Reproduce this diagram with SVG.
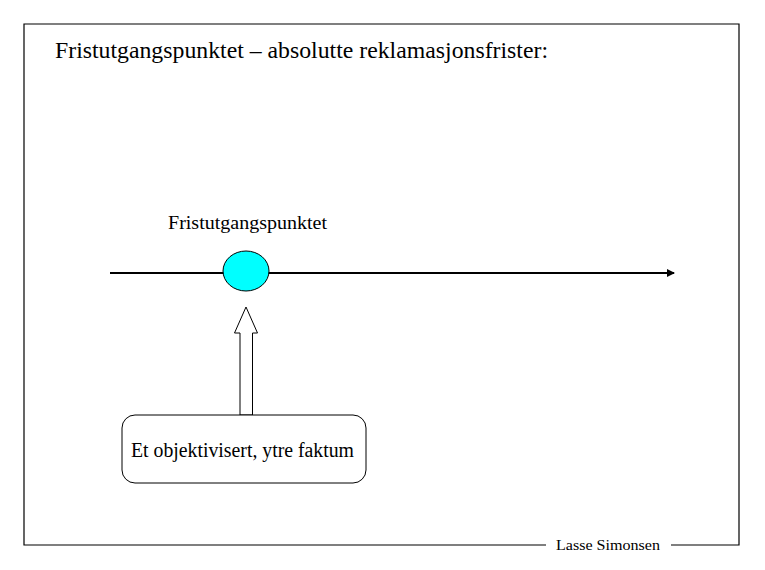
<svg xmlns="http://www.w3.org/2000/svg" width="765" height="570" viewBox="0 0 765 570">
<style>
text{font-family:"Liberation Serif","Times New Roman",serif;fill:#000}
.ln{stroke:#000;fill:none}
</style>
<defs>
<marker id="ah" markerWidth="8" markerHeight="8" refX="7" refY="4" orient="auto" markerUnits="userSpaceOnUse">
<path d="M0,0 L8,4 L0,8 Z" fill="#000"/>
</marker>
</defs>
<rect width="765" height="570" fill="#fff"/>
<g id="frame">
<path class="ln" stroke-width="1.2" d="M546,545 H24 V24 H739 V545 H671"/>
<text x="556" y="549.5" font-family="Liberation Serif, serif" font-size="14.5" textLength="104" lengthAdjust="spacingAndGlyphs">Lasse Simonsen</text>
</g>
<g id="title">
<text x="55" y="58" font-family="Liberation Serif, serif" font-size="23" textLength="493" lengthAdjust="spacingAndGlyphs">Fristutgangspunktet – absolutte reklamasjonsfrister:</text>
</g>
<g id="connectors">
<line class="ln" x1="110" y1="273" x2="674" y2="273" stroke-width="2" marker-end="url(#ah)"/>
<path d="M246,307 L257.5,333 L252.5,333 L252.5,415 L240,415 L240,333 L234.5,333 Z" fill="#fff" stroke="#000" stroke-width="1"/>
</g>
<g id="point">
<ellipse cx="246" cy="271" rx="23" ry="20" fill="#00FFFF" stroke="#000" stroke-width="1"/>
<text x="168" y="228.5" font-family="Liberation Serif, serif" font-size="19" textLength="159" lengthAdjust="spacingAndGlyphs">Fristutgangspunktet</text>
</g>
<g id="fact">
<rect x="122" y="415" width="244" height="68" rx="13" fill="#fff" stroke="#000" stroke-width="1"/>
<text x="131" y="457" font-family="Liberation Serif, serif" font-size="20" textLength="223" lengthAdjust="spacingAndGlyphs">Et objektivisert, ytre faktum</text>
</g>
</svg>
